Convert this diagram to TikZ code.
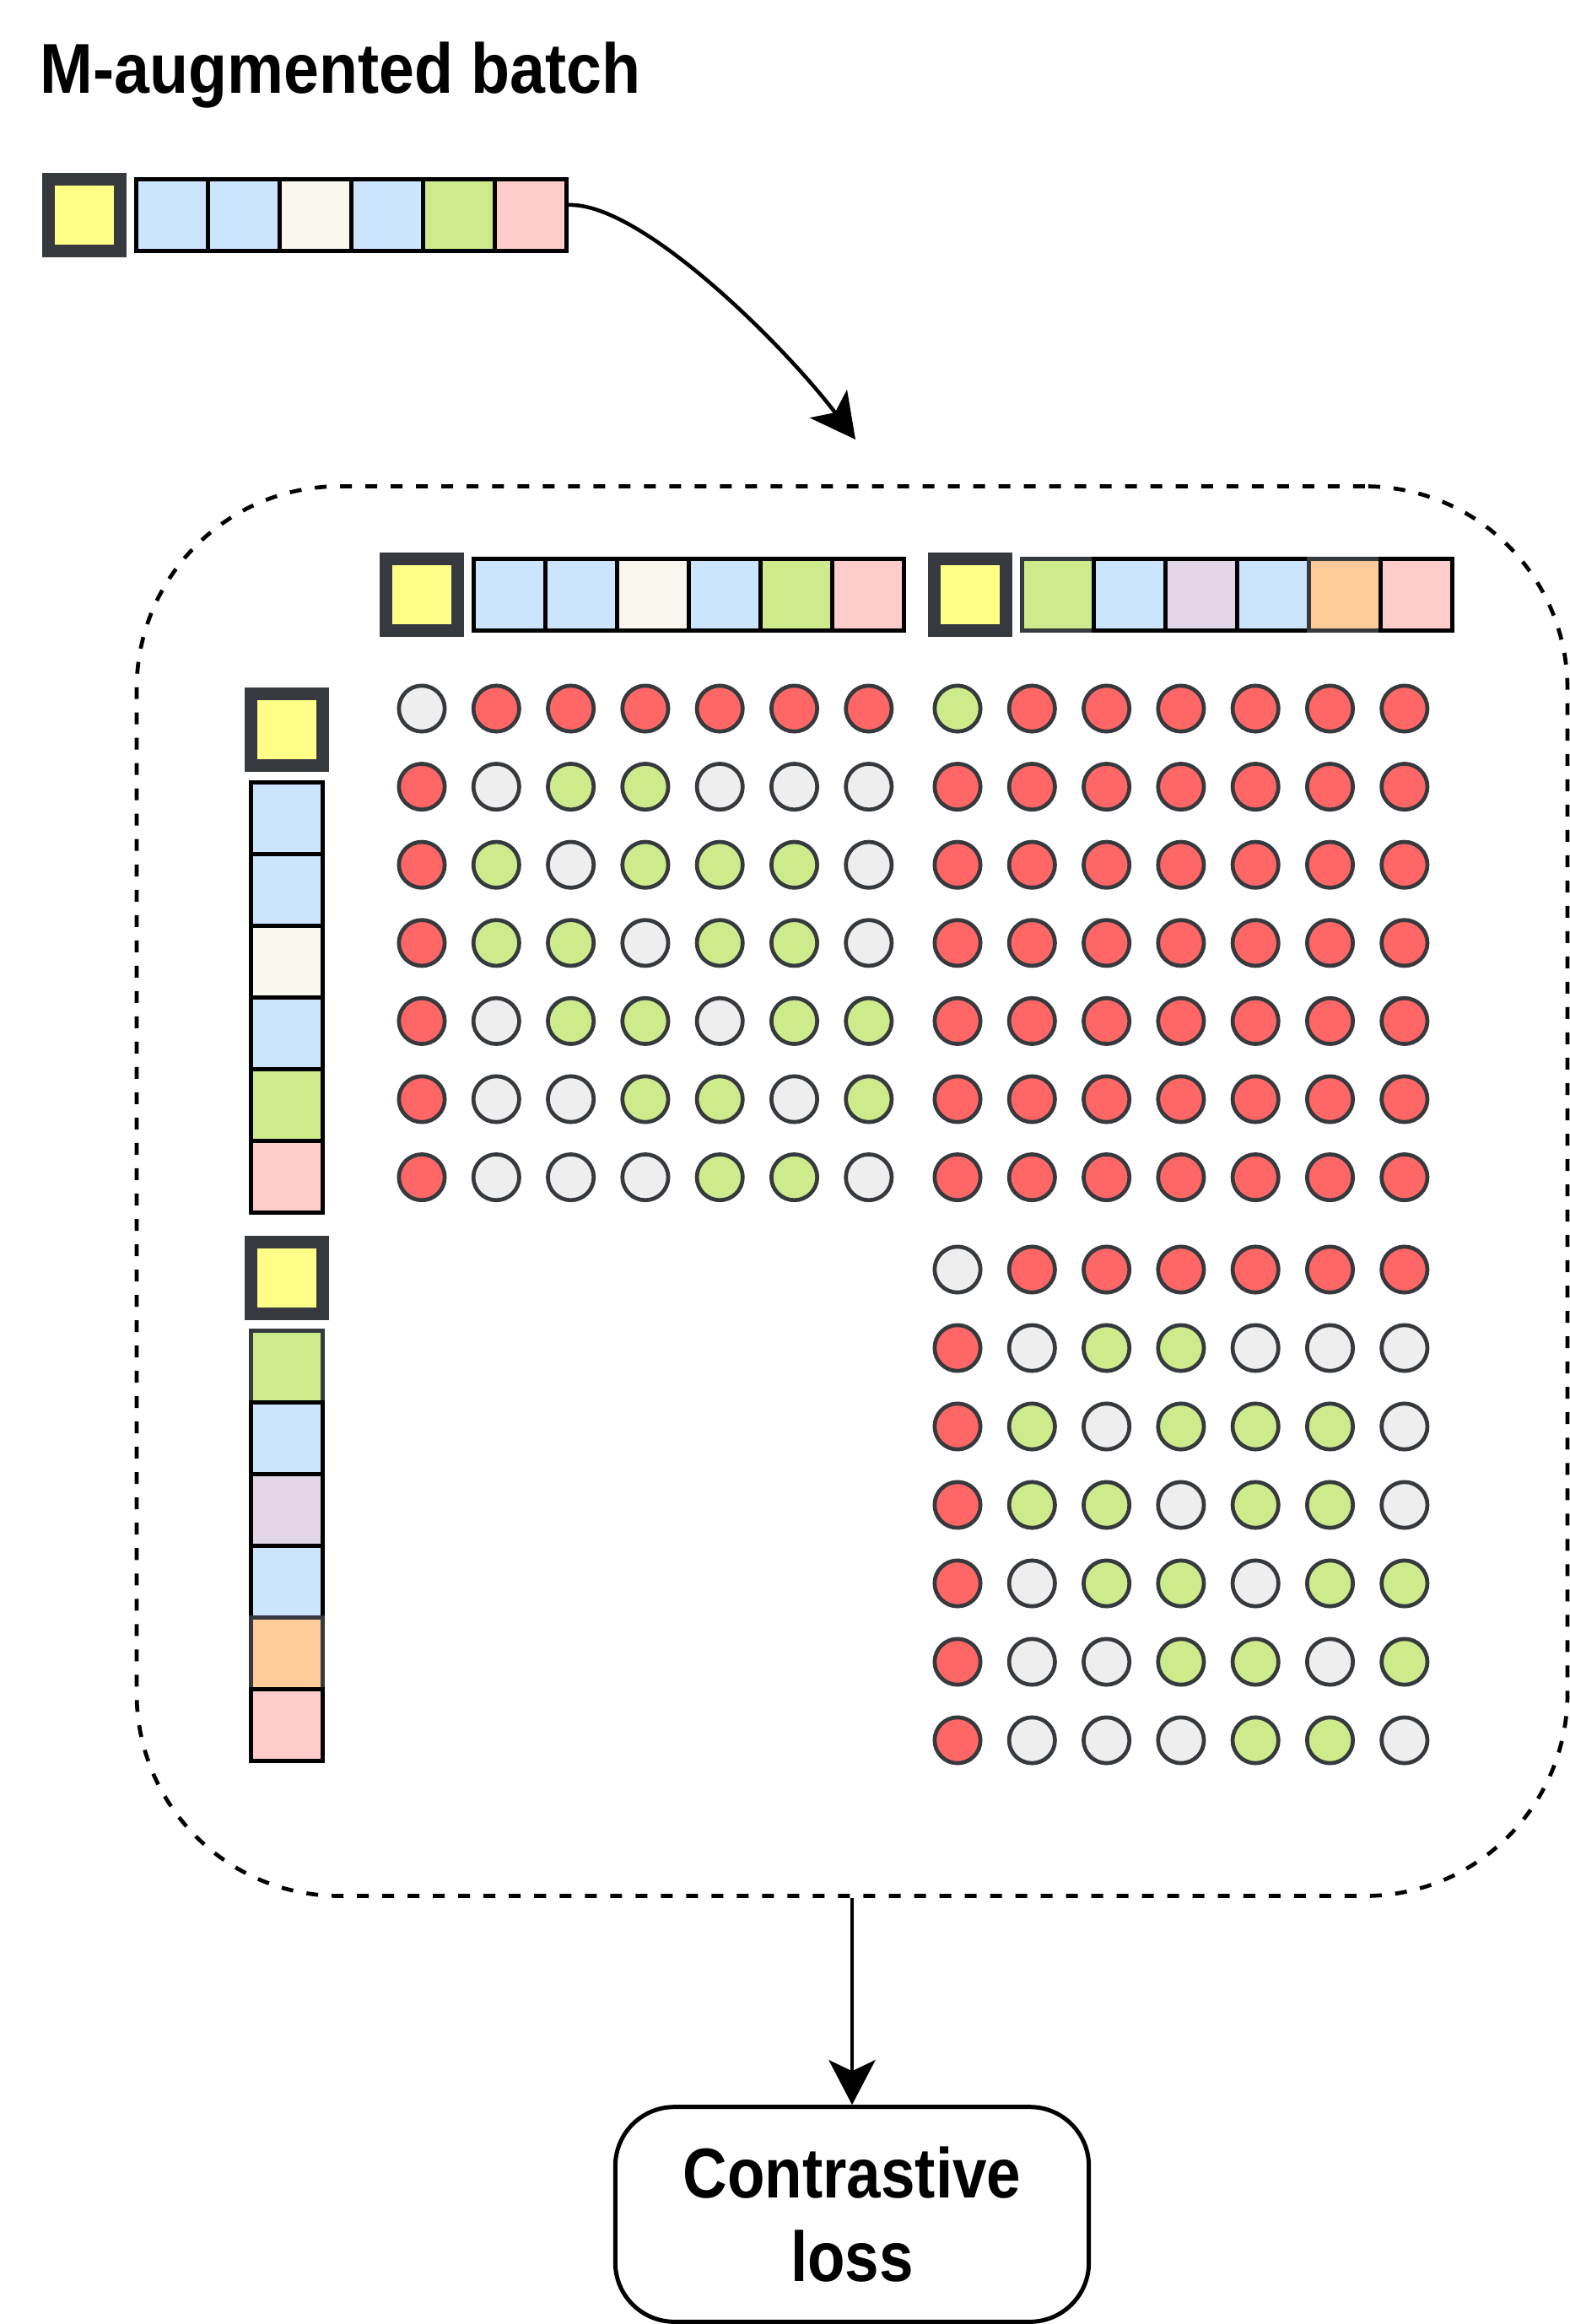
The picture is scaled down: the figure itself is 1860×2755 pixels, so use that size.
\documentclass[tikz,border=0pt]{standalone}
\usepackage{fontspec}
\setmainfont{Liberation Sans}[FakeStretch=0.87]
\newfontfamily\titlefont{Liberation Sans}[FakeStretch=0.90]
\usepackage{tikz}
\usetikzlibrary{arrows.meta, positioning}

\definecolor{darkline}{HTML}{36393D}
\definecolor{cYellow}{HTML}{FFFF88}
\definecolor{cBlue}{HTML}{CCE5FF}
\definecolor{cCream}{HTML}{F9F7ED}
\definecolor{cGreen}{HTML}{CDEB8B}
\definecolor{cPink}{HTML}{FFCCCC}
\definecolor{cPurple}{HTML}{E1D5E7}
\definecolor{cOrange}{HTML}{FFCC99}
\definecolor{simR}{HTML}{FF6666}
\definecolor{simG}{HTML}{CDEB8B}
\definecolor{simW}{HTML}{EEEEEE}

% similarity pattern of one view against itself
\def\diagrows{{W,R,R,R,R,R,R},{R,W,G,G,W,W,W},{R,G,W,G,G,G,W},{R,G,G,W,G,G,W},{R,W,G,G,W,G,G},{R,W,W,G,G,W,G},{R,W,W,W,G,G,W}}
\def\crossrows{{G,R,R,R,R,R,R},{R,R,R,R,R,R,R},{R,R,R,R,R,R,R},{R,R,R,R,R,R,R},{R,R,R,R,R,R,R},{R,R,R,R,R,R,R},{R,R,R,R,R,R,R}}

\begin{document}
\begin{tikzpicture}[x=0.01cm, y=-0.01cm,
        cell/.style={rectangle, draw=black, line width=0.047cm, minimum size=0.85cm, inner sep=0pt},
        query/.style={rectangle, draw=darkline, line width=0.15cm, fill=cYellow, minimum size=0.85cm, inner sep=0pt},
        sim/.style={circle, draw=darkline, line width=0.047cm, minimum size=0.543cm, inner sep=0pt},
        group/.style={rectangle, draw, dashed, dash pattern=on 0.14cm off 0.16cm, line width=0.047cm, rounded corners=2.4cm},
        heading/.style={inner sep=0pt, font=\titlefont\bfseries\fontsize{23.8pt}{28pt}\selectfont},
        lossbox/.style={rectangle, draw, line width=0.05cm, rounded corners=0.7cm, align=center, font=\bfseries\fontsize{23.8pt}{28pt}\selectfont},
        arrow/.style={-{Stealth[length=0.53cm, width=0.55cm, inset=0.13cm]}, line width=0.045cm}
    ]
    \useasboundingbox (0,0) rectangle (1860,2755);

    \node[heading, anchor=base west] (title) at (47,111) {M-augmented batch};

    % input batch
    \node[query] (q0) at (100,255) {};
    \foreach \c [count=\i] in {cBlue,cBlue,cCream,cBlue,cGreen,cPink}
        \node[cell, fill=\c] (a\i) at ({119+85*\i},255) {};

    % the two views along the top and the left
    \node[query] (qa) at (500,705) {};
    \node[query] (qb) at (1150,705) {};
    \node[query] (la) at (340,865) {};
    \node[query] (lb) at (340,1515) {};
    \foreach \c [count=\i] in {cBlue,cBlue,cCream,cBlue,cGreen,cPink} {
        \node[cell, fill=\c] (ta\i) at ({519+85*\i},705) {};
        \node[cell, fill=\c] (ca\i) at (340,{885+85*\i}) {};
    }
    \foreach \c/\d [count=\i] in {cGreen/darkline,cBlue/black,cPurple/black,cBlue/black,cOrange/darkline,cPink/black} {
        \node[cell, fill=\c, draw=\d] (tb\i) at ({1169+85*\i},705) {};
        \node[cell, fill=\c, draw=\d] (cb\i) at (340,{1535+85*\i}) {};
    }

    % similarity circles
    \foreach \row [count=\r] in \diagrows
        \foreach \s [count=\k] in \row {
            \node[sim, fill=sim\s] (tl-\r-\k) at ({500+88.3*(\k-1)},{840+92.6*(\r-1)}) {};
            \node[sim, fill=sim\s] (br-\r-\k) at ({1135+88.3*(\k-1)},{1505+93*(\r-1)}) {};
        }
    \foreach \row [count=\r] in \crossrows
        \foreach \s [count=\k] in \row
            \node[sim, fill=sim\s] (tr-\r-\k) at ({1135+88.3*(\k-1)},{840+92.6*(\r-1)}) {};

    \node[group, minimum width=16.95cm, minimum height=16.7cm] (simbox) at (1010,1412) {};
    \node[lossbox, minimum width=5.61cm, minimum height=2.545cm] (loss) at (1010,2625) {Contrastive\\loss};

    \coordinate (drop) at (1014,521);
    \draw[arrow] ([yshift=0.12cm]a6.east) .. controls +(86,-3) and +(-84,-111) .. (drop);
    \draw[arrow] (simbox) -- (loss);
\end{tikzpicture}
\end{document}
